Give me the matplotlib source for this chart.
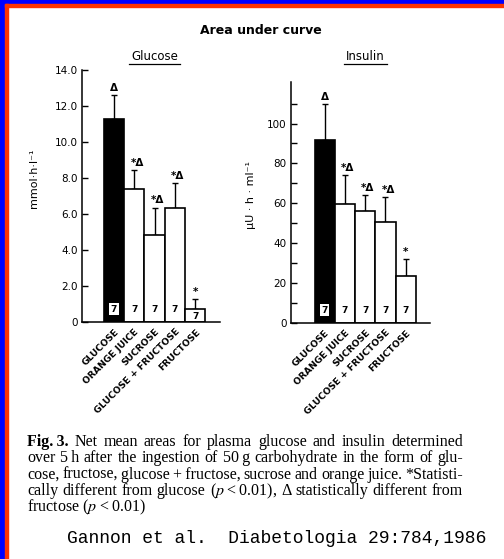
import numpy as np
import matplotlib
matplotlib.use('Agg')
import matplotlib.pyplot as plt
from matplotlib.patches import Rectangle
from matplotlib.lines import Line2D
import matplotlib.transforms as mtrans

plt.rcParams['font.family'] = ['DejaVu Sans']
plt.rcParams['mathtext.fontset'] = 'stix'

# data
categories = ['GLUCOSE', 'ORANGE JUICE', 'SUCROSE', 'GLUCOSE + FRUCTOSE', 'FRUCTOSE']
n_subjects = [7, 7, 7, 7, 7]

glucose_auc = [11.25, 7.4, 4.85, 6.3, 0.7]
glucose_se = [1.35, 1.05, 1.5, 1.4, 0.55]
glucose_sig = ['Δ', '*Δ', '*Δ', '*Δ', '*']
glucose_ticks = [0, 2, 4, 6, 8, 10, 12, 14]
glucose_ticklabels = ['0', '2.0', '4.0', '6.0', '8.0', '10.0', '12.0', '14.0']

insulin_auc = [91.5, 59.5, 56.0, 50.5, 23.5]
insulin_se = [18.5, 14.5, 8.0, 12.5, 8.5]
insulin_sig = ['Δ', '*Δ', '*Δ', '*Δ', '*']
insulin_ticks = [0, 20, 40, 60, 80, 100]
insulin_minor = [10, 30, 50, 70, 90, 110]
insulin_ticklabels = ['0', '20', '40', '60', '80', '100']

caption_lines = [
    'Fig.\u20093. Net mean areas for plasma glucose and insulin determined',
    'over 5\u2009h after the ingestion of 50\u2009g carbohydrate in the form of glu-',
    'cose, fructose, glucose\u2009+\u2009fructose, sucrose and orange juice. *Statisti-',
    'cally different from glucose ($p$\u2009<\u20090.01), Δ statistically different from',
    'fructose ($p$\u2009<\u20090.01)',
]
citation = 'Gannon et al.  Diabetologia 29:784,1986'

W, H = 504, 559
fig = plt.figure(figsize=(W / 100, H / 100), dpi=100)
fig.patch.set_facecolor('white')

def px_axes(left, top, right, bottom):
    return fig.add_axes([left / W, 1 - bottom / H, (right - left) / W, (bottom - top) / H])

ax_g = px_axes(81.7, 70, 220, 321.7)
ax_i = px_axes(291, 81.7, 430, 322.7)

def panel(ax, vals, errs, sig, ylim, xlim):
    x = np.arange(len(vals))
    cols = ['black'] + ['white'] * (len(vals) - 1)
    ax.errorbar(x, vals, yerr=[np.zeros(len(vals)), errs], fmt='none', ecolor='black',
                elinewidth=1.0, capsize=2.5, capthick=1.0, zorder=1)
    ax.bar(x, vals, width=1.0, color=cols, edgecolor='black', linewidth=1.2, zorder=2)
    for xi, v, e, s, n in zip(x, vals, errs, sig, n_subjects):
        if s.startswith('*') and len(s) > 1:
            ax.annotate(s, (xi, v + e), xytext=(-2.8, 1.5), textcoords='offset points',
                        ha='left', va='bottom', fontsize=7.5, fontweight='bold')
        else:
            ax.annotate(s, (xi, v + e), xytext=(0, 1.5), textcoords='offset points',
                        ha='center', va='bottom', fontsize=7.5, fontweight='bold')
        off = 9 if v > 0.1 * ylim[1] else 4
        bb = dict(facecolor='white', edgecolor='none', pad=1.0) if xi == 0 else None
        ax.annotate(str(n), (xi, 0), xytext=(0, off), textcoords='offset points',
                    ha='center', va='center', fontsize=6.5, fontweight='bold', bbox=bb, zorder=5)
    ax.set_xlim(*xlim)
    ax.set_ylim(*ylim)
    for sp in ['top', 'right']:
        ax.spines[sp].set_visible(False)
    for sp in ['left', 'bottom']:
        ax.spines[sp].set_linewidth(1.1)
    ax.set_xticks(x)
    ax.set_xticklabels(categories, rotation=45, ha='right', rotation_mode='anchor',
                       fontsize=6.6, fontweight='bold')
    ax.tick_params(axis='x', length=0, pad=4)
    ax.tick_params(axis='y', which='both', direction='in', length=4, width=1.0,
                   labelsize=7.5, pad=3)

panel(ax_g, glucose_auc, glucose_se, glucose_sig, (0, 14), (-1.59, 5.22))
ax_g.set_yticks(glucose_ticks)
ax_g.set_yticklabels(glucose_ticklabels)
ax_g.set_ylabel('mmol·h·l⁻¹', fontsize=8)
ax_g.yaxis.set_label_coords(-0.31, 0.569)

panel(ax_i, insulin_auc, insulin_se, insulin_sig, (0, 121), (-1.66, 5.2))
ax_i.set_yticks(insulin_ticks)
ax_i.set_yticklabels(insulin_ticklabels)
ax_i.set_yticks(insulin_minor, minor=True)
ax_i.set_ylabel('μU · h · ml⁻¹', fontsize=8)
ax_i.yaxis.set_label_coords(-0.25, 0.53)

fig.text(261 / W, 1 - 30 / H, 'Area under curve', ha='center', va='center',
         fontsize=9, fontweight='bold')

# frame lines at left and top
blue, red = '#0000ff', '#ff3300'
fig.patches.append(Rectangle((0, 0), 4.5 / W, 1, transform=fig.transFigure, color=blue, zorder=10))
fig.patches.append(Rectangle((0, 1 - 3.5 / H), 1, 3.5 / H, transform=fig.transFigure, color=blue, zorder=10))
fig.patches.append(Rectangle((4.5 / W, 0), 3.5 / W, 1 - 3.5 / H, transform=fig.transFigure, color=red, zorder=10))
fig.patches.append(Rectangle((4.5 / W, 1 - 7 / H), 1, 3.5 / H, transform=fig.transFigure, color=red, zorder=10))

fig.canvas.draw()
r = fig.canvas.get_renderer()
ident = mtrans.IdentityTransform()

# underlined panel headers
for ax, name in [(ax_g, 'Glucose'), (ax_i, 'Insulin')]:
    xc = ax.transData.transform((2, 0))[0]
    t = fig.text(xc, H - 56.7, name, ha='center', va='center', fontsize=8.5, transform=ident)
    bb = t.get_window_extent(renderer=r)
    fig.add_artist(Line2D([bb.x0 - 2, bb.x1 + 2], [H - 63.8, H - 63.8], color='black',
                          lw=0.9, transform=ident))

# justified caption
cap_font = dict(family=['Liberation Serif', 'DejaVu Serif'], fontsize=11.5, va='baseline', ha='left')
x_left, x_right = 27, 463
base = [446, 462.4, 478.8, 495.2, 511.6]
for i, line in enumerate(caption_lines):
    y = H - base[i]
    if i == len(caption_lines) - 1:
        fig.text(x_left, y, line, transform=ident, **cap_font)
        continue
    words = line.split(' ')
    arts = []
    for w in words:
        wt = 'bold' if w.startswith('Fig.') else 'normal'
        arts.append(fig.text(0, y, w, transform=ident, fontweight=wt, **cap_font))
    widths = [a.get_window_extent(renderer=r).width for a in arts]
    gap = (x_right - x_left - sum(widths)) / (len(arts) - 1)
    xp = x_left
    for a, wd in zip(arts, widths):
        a.set_x(xp)
        xp += wd + gap

fig.text(66.7, H - 542.7, citation, transform=ident, family='Liberation Mono',
         fontsize=13, va='baseline', ha='left')

fig.savefig('out.png', dpi=100)
